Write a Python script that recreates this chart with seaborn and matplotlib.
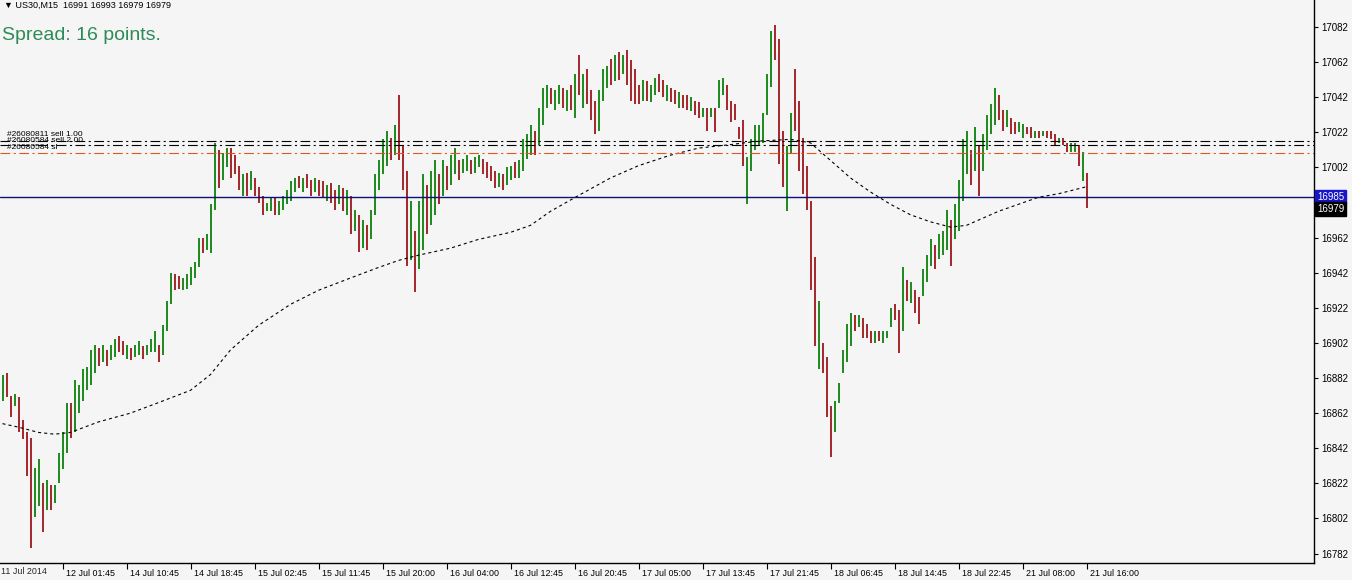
import numpy as np
import pandas as pd
import matplotlib
matplotlib.use("Agg")
import matplotlib.pyplot as plt
import matplotlib.transforms as mtransforms
import seaborn as sns

# --- data (US30, M15 bars) ---
high = [16884, 16885, 16872, 16873, 16871, 16858, 16851, 16848, 16831, 16836,
        16822, 16824, 16821, 16821, 16839, 16851, 16868, 16868, 16881, 16878,
        16887, 16888, 16898, 16901, 16899, 16901, 16898, 16901, 16904, 16906,
        16903, 16901, 16899, 16901, 16903, 16900, 16901, 16904, 16909, 16901,
        16912, 16926, 16942, 16941, 16940, 16939, 16941, 16945, 16948, 16962,
        16962, 16964, 16981, 17016, 17012, 17010, 17013, 17013, 17009, 17003,
        16998, 16999, 17000, 16996, 16991, 16986, 16982, 16985, 16985, 16983,
        16986, 16989, 16994, 16996, 16997, 16996, 16998, 16995, 16996, 16995,
        16994, 16992, 16993, 16989, 16992, 16990, 16989, 16986, 16978, 16975,
        16972, 16969, 16978, 16998, 17006, 17018, 17023, 17019, 17026, 17043,
        17015, 17000, 16983, 16966, 16983, 16998, 16992, 17000, 17006, 16998,
        17006, 17003, 17009, 17013, 17006, 17007, 17009, 17006, 17008, 17009,
        17007, 17005, 17003, 17000, 16999, 16998, 17002, 17003, 17005, 17006,
        17018, 17021, 17026, 17023, 17036, 17047, 17049, 17047, 17046, 17049,
        17047, 17046, 17049, 17055, 17066, 17055, 17058, 17046, 17040, 17046,
        17058, 17060, 17064, 17066, 17068, 17066, 17069, 17063, 17058, 17049,
        17052, 17051, 17049, 17053, 17055, 17052, 17049, 17047, 17046, 17045,
        17043, 17043, 17042, 17040, 17039, 17036, 17036, 17036, 17036, 17052,
        17053, 17049, 17040, 17038, 17025, 17029, 17008, 17018, 17026, 17026,
        17033, 17055, 17080, 17083, 17075, 17023, 17014, 17033, 17058, 17040,
        17019, 17003, 16983, 16951, 16926, 16902, 16894, 16866, 16869, 16879,
        16898, 16913, 16919, 16918, 16918, 16916, 16913, 16909, 16909, 16909,
        16909, 16909, 16922, 16924, 16921, 16945, 16938, 16937, 16932, 16928,
        16944, 16952, 16961, 16958, 16964, 16966, 16978, 16972, 16981, 16995,
        17018, 17023, 17012, 17025, 17015, 17021, 17032, 17038, 17047, 17043,
        17035, 17035, 17030, 17028, 17028, 17027, 17025, 17025, 17023, 17023,
        17023, 17023, 17023, 17021, 17019, 17019, 17016, 17016, 17016, 17015,
        17011, 16999]
low = [16869, 16871, 16860, 16866, 16851, 16847, 16826, 16785, 16803, 16809,
       16794, 16807, 16807, 16811, 16822, 16830, 16839, 16848, 16851, 16862,
       16869, 16875, 16878, 16885, 16889, 16891, 16889, 16892, 16894, 16897,
       16895, 16893, 16892, 16894, 16895, 16893, 16895, 16897, 16897, 16891,
       16895, 16909, 16924, 16932, 16933, 16932, 16933, 16935, 16939, 16945,
       16953, 16955, 16953, 16978, 16990, 16995, 17002, 16996, 16998, 16989,
       16986, 16986, 16989, 16986, 16982, 16975, 16977, 16977, 16975, 16975,
       16978, 16981, 16983, 16988, 16990, 16988, 16990, 16986, 16988, 16986,
       16985, 16983, 16982, 16978, 16981, 16977, 16975, 16964, 16966, 16954,
       16956, 16955, 16961, 16975, 16989, 16998, 17003, 17006, 17009, 17006,
       16989, 16946, 16949, 16931, 16944, 16955, 16964, 16969, 16975, 16981,
       16986, 16989, 16992, 16998, 16995, 16999, 17000, 16998, 16999, 17002,
       16998, 16996, 16994, 16990, 16991, 16989, 16992, 16995, 16996, 16996,
       17000, 17007, 17009, 17009, 17015, 17026, 17036, 17038, 17035, 17038,
       17036, 17034, 17035, 17030, 17043, 17036, 17038, 17029, 17021, 17023,
       17040, 17047, 17049, 17051, 17052, 17055, 17049, 17040, 17038, 17038,
       17040, 17040, 17039, 17043, 17045, 17042, 17040, 17039, 17038, 17036,
       17036, 17035, 17034, 17032, 17030, 17031, 17023, 17031, 17022, 17036,
       17043, 17035, 17028, 17029, 17018, 17003, 16981, 17000, 17012, 17014,
       17016, 17032, 17048, 17063, 17004, 16991, 16977, 17010, 17023, 17000,
       16987, 16978, 16932, 16900, 16887, 16885, 16860, 16837, 16851, 16868,
       16885, 16891, 16900, 16909, 16911, 16905, 16905, 16902, 16902, 16903,
       16902, 16905, 16911, 16915, 16896, 16909, 16926, 16925, 16919, 16913,
       16929, 16937, 16946, 16944, 16950, 16952, 16955, 16946, 16961, 16966,
       16983, 16998, 16992, 17000, 16986, 17000, 17012, 17021, 17026, 17029,
       17023, 17025, 17021, 17021, 17022, 17019, 17021, 17019, 17019, 17019,
       17020, 17019, 17018, 17015, 17016, 17015, 17011, 17011, 17011, 17003,
       16994, 16979]
# u = bull bar (green), d = bear bar (red)
direction = ("uddudddduu" "duduuuuduu" "uuuududuud" "duduuduuud" "uuudduuuuu"
             "duuuduuddd" "ududdduudu" "uuuududdud" "duddududud" "uduuuuudud"
             "dduduuduud" "uduuduuduu" "dddduduudu" "uuuduuuduu" "dudududddu"
             "uudududddd" "uduudduddu" "dduddududu" "uddddduuuu" "uuuddduudd"
             "dddduddduu" "uuududddud" "uuuddududd" "uuuduuuduu" "uududuuuud"
             "dudduuddud" "udddudduud" "ud")

ma_bar = [0, 4, 9, 13, 17, 24, 32, 39, 47, 52, 57, 64, 72, 79, 87, 94, 99, 104,
          112, 119, 127, 132, 137, 144, 152, 159, 167, 174, 182, 189, 197, 202,
          207, 212, 217, 222, 227, 232, 237, 241, 244, 249, 254, 259, 264, 271]
ma_value = [16856, 16854, 16851, 16850, 16851, 16857, 16862, 16868, 16875, 16884,
            16898, 16912, 16924, 16932, 16939, 16945, 16949, 16952, 16956, 16961,
            16965, 16969, 16977, 16986, 16996, 17003, 17009, 17013, 17015, 17017,
            17018, 17016, 17006, 16996, 16988, 16981, 16975, 16971, 16968, 16969,
            16972, 16977, 16981, 16985, 16987, 16991]

price_ticks = [17082, 17062, 17042, 17022, 17002, 16962, 16942, 16922,
               16902, 16882, 16862, 16842, 16822, 16802, 16782]
date_labels = ["12 Jul 01:45", "14 Jul 10:45", "14 Jul 18:45", "15 Jul 02:45",
               "15 Jul 11:45", "15 Jul 20:00", "16 Jul 04:00", "16 Jul 12:45",
               "16 Jul 20:45", "17 Jul 05:00", "17 Jul 13:45", "17 Jul 21:45",
               "18 Jul 06:45", "18 Jul 14:45", "18 Jul 22:45", "21 Jul 08:00",
               "21 Jul 16:00"]
order_names = ["#26080811 sell 1.00", "#26080584 sell 2.00", "#26080584 sl"]
order_prices = [17017, 17015, 17010]
order_colors = ["black", "black", "#e0561e"]
bid_price = 16985
last_price = 16979

BG = "#f5f5f5"
sns.set_style("white", {"axes.facecolor": BG, "figure.facecolor": BG})
plt.rcParams["font.family"] = ["Liberation Sans", "DejaVu Sans"]
plt.rcParams["lines.scale_dashes"] = False

n = len(high)
df = pd.DataFrame({"bar": np.arange(n), "high": high, "low": low,
                   "dir": list(direction[:n])})
df["color"] = np.where(df["dir"] == "u", "#1d8a1d", "#a3262b")

fig = plt.figure(figsize=(13.52, 5.80), dpi=100)
ax = fig.add_axes([0, 17 / 580, 1314 / 1352, 563 / 580])

ax.vlines(df["bar"], df["low"], df["high"], colors=df["color"], linewidth=1.4)

ma = pd.DataFrame({"bar": ma_bar, "ma": ma_value})
sns.lineplot(data=ma, x="bar", y="ma", ax=ax, color="black", linewidth=0.8,
             linestyle=(0, (2.2, 2.2)))

# order lines + their labels
for name, p, c in zip(order_names, order_prices, order_colors):
    ax.axhline(p, color=c, lw=0.8, ls=(0, (7, 2.5, 1.5, 2.5)))
label_y = [17020.5, 17017.5, 17013.5]
for name, y in zip(order_names, label_y):
    ax.text(1.2, y, name, fontsize=6, va="center", ha="left", color="black")

ax.axhline(bid_price, color="#10107a", lw=1.0)

ax.set_xlim(-0.625, 327.875)
ax.set_ylim(16776.6, 17097.4)

# axes, ticks
for s in ["left", "top"]:
    ax.spines[s].set_visible(False)
for s in ["right", "bottom"]:
    ax.spines[s].set_color("black")
    ax.spines[s].set_linewidth(1.0)
ax.yaxis.tick_right()
ax.set_yticks(price_ticks)
ax.set_yticklabels([str(v) for v in price_ticks])
ax.tick_params(axis="y", right=True, length=3, width=0.8, direction="out",
               labelsize=7, pad=2, colors="black")
ax.set_xticks(np.arange(15, n, 16))
ax.set_xticklabels(date_labels, ha="left")
ax.tick_params(axis="x", bottom=True, length=4, width=0.8, direction="out",
               labelsize=6.4, pad=0.5, colors="black")
offset = mtransforms.ScaledTranslation(0.03, 0, fig.dpi_scale_trans)
for lab in ax.get_xticklabels():
    lab.set_transform(lab.get_transform() + offset)
ax.set_xlabel("")
ax.set_ylabel("")

# price boxes on the right scale
ytrans = mtransforms.blended_transform_factory(ax.transAxes, ax.transData)
ax.text(1.0 + 3 / 1314, bid_price, str(bid_price), transform=ytrans, fontsize=7,
        color="white", va="center", ha="left", clip_on=False, zorder=10,
        bbox=dict(boxstyle="square,pad=0.2", fc="#1616c8", ec="#1616c8"))
ax.text(1.0 + 3 / 1314, last_price - 0.6, str(last_price), transform=ytrans,
        fontsize=7, color="white", va="center", ha="left", clip_on=False,
        zorder=10, bbox=dict(boxstyle="square,pad=0.2", fc="black", ec="black"))

# header texts
fig.text(1 / 1352, 1 - 571 / 580, "11 Jul 2014", fontsize=6.4, va="center", ha="left")
fig.text(4 / 1352, 1 - 5 / 580, "\u25BC US30,M15  16991 16993 16979 16979",
         fontsize=6.5, va="center", ha="left", color="black")
fig.text(2 / 1352, 1 - 35 / 580, "Spread: 16 points.", fontsize=14,
         va="center", ha="left", color="#2e8b57")

fig.savefig("out.png", dpi=100, facecolor=BG)
